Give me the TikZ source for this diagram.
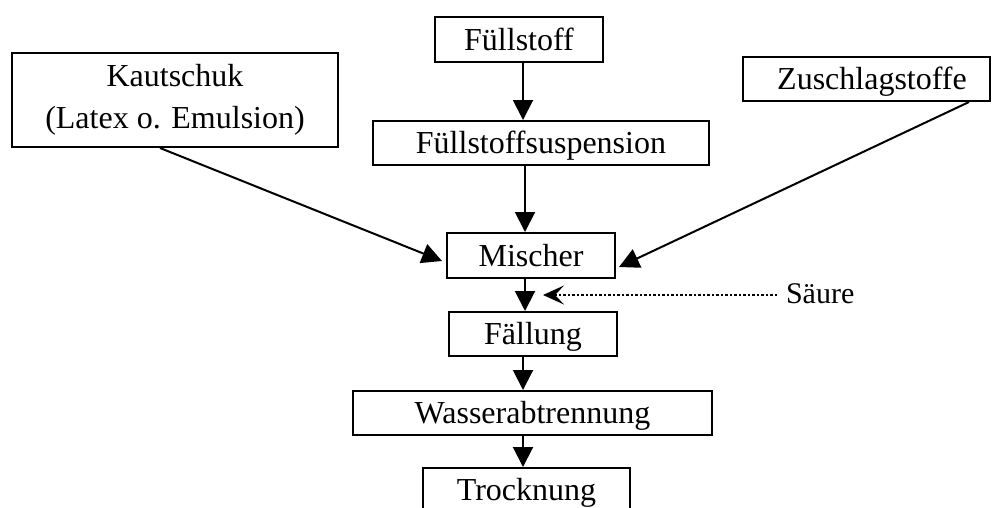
\documentclass[tikz,border=0pt]{standalone}
\usepackage{fontspec}
\setmainfont{Liberation Serif}
\usetikzlibrary{arrows.meta}
\begin{document}
\begin{tikzpicture}[x=1pt,y=-1pt,
  font=\fontsize{32}{42.5}\selectfont,
  line width=2pt,
  box/.style={draw, line width=2pt, inner sep=0pt, text height=22pt, text depth=1pt},
  bigbox/.style={draw, line width=2pt, inner sep=0pt, align=center},
  arr/.style={-{Triangle[length=20pt,width=20pt]}, line width=2pt},
  darr/.style={-{Stealth[length=21pt,width=19pt,inset=9pt]}, line width=2.5pt, dash pattern=on 2.5pt off 2pt}]
\useasboundingbox (0,0) rectangle (992,507);
\clip (0,0) rectangle (992,507);
\node[box, minimum width=168pt, minimum height=45pt] (fuell) at (519,39.5) {Füllstoff};
\node[bigbox, minimum width=326pt, minimum height=94pt] (kaut) at (175,100) {Kautschuk\\(Latex o. Emulsion)};
\node[box, minimum width=247pt, minimum height=44pt] (zusch) at (866.5,79) {\hspace*{11pt}Zuschlagstoffe};
\node[box, minimum width=336pt, minimum height=44pt] (susp) at (541,143) {Füllstoffsuspension};
\node[box, minimum width=168pt, minimum height=45pt] (misch) at (531,255.5) {Mischer};
\node[box, minimum width=168pt, minimum height=44pt] (faell) at (533,334) {Fällung};
\node[box, minimum width=359pt, minimum height=44pt] (wasser) at (532.5,413) {Wasserabtrennung};
\node[box, minimum width=207pt, minimum height=44pt] (trock) at (526.5,490) {Trocknung};
\node[inner sep=0pt, anchor=base west, font=\fontsize{30}{36}\selectfont] (saeure) at (785,303) {Säure};
\coordinate (xa) at (523,0);
\coordinate (xb) at (525,0);
\coordinate (tipS) at (543,295);
\draw[arr] (fuell.south -| xa) -- (susp.north -| xa);
\draw[arr] (susp.south -| xb) -- (misch.north -| xb);
\draw[arr] (misch.south -| xb) -- (faell.north -| xb);
\draw[arr] (faell.south -| xa) -- (wasser.north -| xa);
\draw[arr] (wasser.south -| xa) -- (trock.north -| xa);
\draw[arr] ([xshift=-15pt]kaut.south) -- ([xshift=-4pt,yshift=-5.5pt]misch.west);
\draw[arr] ([xshift=102.5pt]zusch.south) -- ([xshift=3pt,yshift=-11.5pt]misch.east);
\draw[darr] ([xshift=-8pt,yshift=8pt]saeure.base west) -- (tipS);
\end{tikzpicture}
\end{document}
